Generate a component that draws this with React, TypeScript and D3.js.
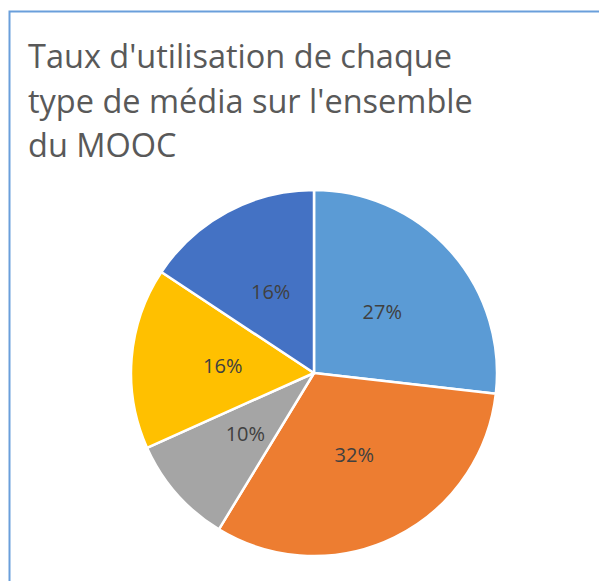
import React from "react";
import * as d3 from "d3";

const categories = ["Vidéo", "Texte", "Image", "Quiz", "Forum"];
const values = [26.8, 31.9, 9.6, 16.0, 15.7];
const colors = ["#5B9BD5", "#ED7D31", "#A5A5A5", "#FFC000", "#4472C4"];
const titleLines = ["Taux d'utilisation de chaque", "type de média sur l'ensemble", "du MOOC"];

const W = 599;
const H = 581;
const cx = 314;
const cy = 373;
const R = 183;

export default function App() {
  const total = d3.sum(values);
  const pie = d3.pie<number>().sort(null).value((d) => d);
  const arcs = pie(values);
  const arc = d3.arc<d3.PieArcDatum<number>>().innerRadius(0).outerRadius(R);
  const labelArc = d3.arc<d3.PieArcDatum<number>>().innerRadius(R * 0.5).outerRadius(R * 0.5);
  const fmt = d3.format(".0%");
  return (
    <svg width={W} height={H} style={{ position: "absolute", left: 0, top: 0, background: "#fff" }}>
      <rect x={9.5} y={11.5} width={700} height={700} fill="#fff" stroke="#6A9FDB" strokeWidth={2} />
      {titleLines.map((t, i) => (
        <text key={i} x={28} y={68 + i * 44.5} fill="#595959" fontFamily="Open Sans" fontSize={32.5}>
          {t}
        </text>
      ))}
      <g transform={`translate(${cx},${cy})`}>
        {arcs.map((a, i) => (
          <path key={categories[i]} d={arc(a) || ""} fill={colors[i]} stroke="#fff" strokeWidth={2.5} strokeLinejoin="round" />
        ))}
        {arcs.map((a, i) => {
          const [x, y] = labelArc.centroid(a);
          return (
            <text key={"l" + i} x={x} y={y} dy="0.35em" textAnchor="middle" fill="#404040" fontFamily="Open Sans" fontSize={20}>
              {fmt(values[i] / total)}
            </text>
          );
        })}
      </g>
    </svg>
  );
}
